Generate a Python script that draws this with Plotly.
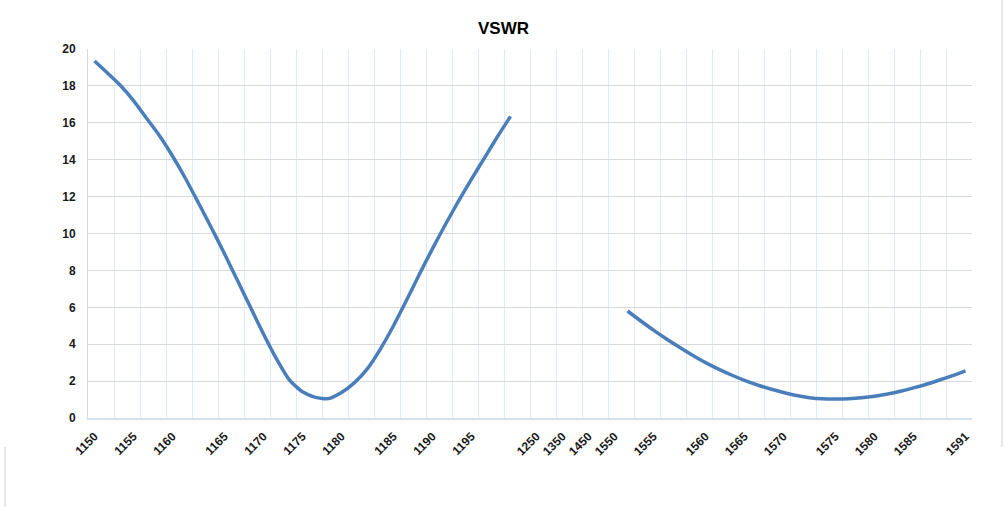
import plotly.graph_objects as go

# Category slots along the x axis (blank = unlabeled slot)
labeled = {0: "1150", 3: "1155", 6: "1160", 10: "1165", 13: "1170", 16: "1175",
           19: "1180", 23: "1185", 26: "1190", 29: "1195", 34: "1250", 36: "1350",
           38: "1450", 40: "1550", 43: "1555", 47: "1560", 50: "1565", 53: "1570",
           57: "1575", 60: "1580", 63: "1585", 67: "1591"}
categories = [labeled.get(i, "") for i in range(68)]

# VSWR values, first band (slots 0..32)
vswr_band1 = [19.35, 18.7, 18.02, 17.2, 16.25, 15.3, 14.2, 12.98, 11.65, 10.3,
              8.9, 7.45, 6.0, 4.55, 3.2, 2.05, 1.42, 1.12, 1.05, 1.38,
              1.92, 2.68, 3.75, 5.0, 6.38, 7.8, 9.18, 10.5, 11.75, 12.95,
              14.1, 15.25, 16.35]
# VSWR values, second band (slots 41..67)
vswr_band2 = [5.8, 5.27, 4.76, 4.28, 3.83, 3.4, 3.0, 2.65, 2.33, 2.04,
              1.79, 1.57, 1.38, 1.22, 1.1, 1.04, 1.03, 1.05, 1.1, 1.18,
              1.3, 1.45, 1.63, 1.83, 2.06, 2.3, 2.56]

vswr = vswr_band1 + [None] * (41 - len(vswr_band1)) + vswr_band2

y_ticks = [0, 2, 4, 6, 8, 10, 12, 14, 16, 18, 20]

x_idx = list(range(len(categories)))
tickvals = [i for i, c in enumerate(categories) if c]
ticktext = [categories[i] for i in tickvals]

fig = go.Figure()
fig.add_trace(go.Scatter(
    x=x_idx, y=vswr, mode="lines",
    line=dict(color="#4a7ebb", width=3.5, shape="spline", smoothing=0.6),
    connectgaps=False, hoverinfo="x+y", showlegend=False,
))

font_family = "Liberation Sans, Arial, sans-serif"
H_PLOT = 369.0
W_PLOT = 884.0

fig.update_layout(
    width=1007, height=507,
    paper_bgcolor="white", plot_bgcolor="white",
    margin=dict(l=88, r=35, t=49, b=89),
    title=dict(text="<b>VSWR</b>", x=0.5, xanchor="center", y=1 - 28/507, yanchor="middle",
               font=dict(family=font_family, size=17, color="#000000")),
    xaxis=dict(
        range=[-0.5, len(categories) - 0.5],
        tickmode="array", tickvals=tickvals, ticktext=ticktext,
        tickangle=-45, showgrid=False, zeroline=False,
        tickfont=dict(family=font_family, size=12, color="#1a1a1a", weight="bold"),
        ticks="", ticklabelstandoff=5,
        showline=True, linecolor="#d6e0ef", linewidth=1.5,
        minor=dict(tickmode="linear", tick0=-0.5, dtick=2, showgrid=True,
                   gridcolor="#e1e9f5", gridwidth=1, ticks=""),
        fixedrange=True,
    ),
    yaxis=dict(
        range=[0, 20], tickmode="array", tickvals=y_ticks,
        showgrid=True, gridcolor="#d9d9d9", gridwidth=1, zeroline=False,
        tickfont=dict(family=font_family, size=12, color="#1a1a1a", weight="bold"),
        ticks="", ticklabelstandoff=9,
        showline=True, linecolor="#d9d9d9", linewidth=1,
        fixedrange=True,
    ),
    shapes=[
        dict(type="line", xref="paper", yref="paper",
             x0=1.0 + 30/W_PLOT, x1=1.0 + 30/W_PLOT,
             y0=418/H_PLOT, y1=-29/H_PLOT,
             layer="above", line=dict(color="#d0d0d0", width=1)),
        dict(type="line", xref="paper", yref="paper",
             x0=-83/W_PLOT, x1=-83/W_PLOT,
             y0=-29/H_PLOT, y1=-89/H_PLOT,
             layer="above", line=dict(color="#d0d0d0", width=1)),
    ],
)

fig.write_html(
    "out.html",
    config={"displayModeBar": False},
    post_script="document.body.style.margin='0';document.body.style.overflow='hidden';",
)
